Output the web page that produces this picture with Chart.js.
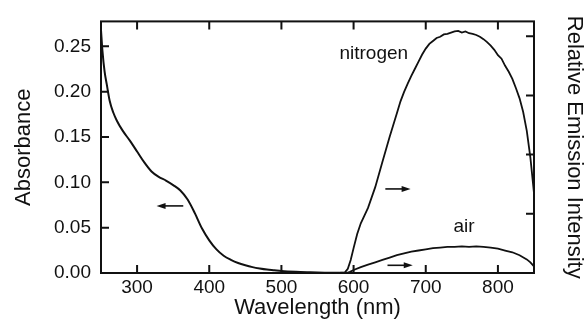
<!DOCTYPE html>
<html>
<head>
<meta charset="utf-8">
<script src="https://cdn.jsdelivr.net/npm/chart.js@4.4.1/dist/chart.umd.min.js"></script>
<style>
  html, body { margin: 0; padding: 0; background: #fff; }
  #wrap { width: 584px; height: 326px; }
</style>
</head>
<body>
<div id="wrap"><canvas id="chart"></canvas></div>
<script>
// --- Data ---
// absorbance (left axis)
const absNm  = [250, 252, 255, 258, 262, 267, 272, 280, 290, 300, 310, 320, 330, 340, 350,
                360, 370, 380, 390, 400, 410, 420, 430, 440, 450, 460, 470, 480, 490, 500,
                520, 540, 560, 580, 600];
const absVal = [0.268, 0.245, 0.222, 0.208, 0.190, 0.177, 0.168, 0.157, 0.146, 0.134, 0.122, 0.112, 0.106, 0.102, 0.097,
                0.091, 0.081, 0.066, 0.049, 0.036, 0.026, 0.019, 0.0145, 0.011, 0.0085, 0.0065, 0.005, 0.0038, 0.003, 0.0022,
                0.0013, 0.0008, 0.0004, 0.0002, 0];

// emission under nitrogen (right axis, relative units)
const nitroNm  = [580, 588, 592, 596, 600, 605, 610, 615, 620, 630, 640, 650, 660, 665, 670, 675, 680, 685, 690, 695,
                  700, 705, 710, 715, 720, 725, 730, 735, 740, 745, 750, 755, 760, 765, 770, 775, 780, 785, 790, 795,
                  800, 805, 810, 815, 820, 825, 830, 835, 840, 845, 850];
const nitroInt = [0, 0.01, 0.07, 0.22, 0.42, 0.66, 0.84, 0.97, 1.10, 1.45, 1.88, 2.30, 2.70, 2.90, 3.06, 3.20, 3.33, 3.45, 3.57, 3.69,
                  3.79, 3.87, 3.92, 3.97, 3.99, 4.03, 4.04, 4.06, 4.08, 4.09, 4.06, 4.08, 4.05, 4.04, 4.02, 3.99, 3.95, 3.90, 3.84, 3.77,
                  3.68, 3.62, 3.50, 3.40, 3.28, 3.12, 2.95, 2.72, 2.40, 1.95, 1.35];

// emission under air (right axis)
const airNm  = [590, 595, 600, 610, 620, 630, 640, 650, 660, 670, 680, 690, 700, 710, 720, 730, 740, 750, 760, 770,
                780, 790, 800, 810, 820, 830, 840, 845, 850];
const airInt = [0, 0.02, 0.05, 0.10, 0.14, 0.18, 0.22, 0.26, 0.30, 0.33, 0.36, 0.38, 0.40, 0.42, 0.43, 0.44, 0.44, 0.45, 0.44, 0.45,
                0.44, 0.43, 0.41, 0.38, 0.35, 0.30, 0.23, 0.18, 0.11];

// axes
const xTicks  = [300, 400, 500, 600, 700, 800];
const yTicks  = [0, 0.05, 0.10, 0.15, 0.20, 0.25];
const y2Ticks = [1, 2, 3, 4];

// annotations (data coordinates)
const arrows = [
    { axis: 'y',  from: 364, to: 327, v: 0.074 },
    { axis: 'y2', from: 644, to: 679, v: 1.42 },
    { axis: 'y2', from: 647, to: 682, v: 0.13 },
];
const notes = [
    { text: 'nitrogen', nm: 628, v: 3.62 },
    { text: 'air',      nm: 753, v: 0.70 },
];

const INK = '#111';
const FONT = "'Liberation Sans', Arial, sans-serif";
const TICK = 8;

const toXY = (xs, ys) => xs.map((x, i) => ({ x, y: ys[i] }));

// frame, inward ticks, arrows and labels
const frameAndNotes = {
    id: 'frameAndNotes',
    afterDraw(chart) {
        const { ctx, chartArea: a, scales } = chart;
        const { x, y, y2 } = scales;
        ctx.save();
        ctx.strokeStyle = INK;
        ctx.fillStyle = INK;
        ctx.lineWidth = 2;
        ctx.strokeRect(a.left, a.top, a.right - a.left, a.bottom - a.top);

        ctx.beginPath();
        xTicks.forEach(v => {
            const px = x.getPixelForValue(v);
            ctx.moveTo(px, a.bottom); ctx.lineTo(px, a.bottom - TICK);
            ctx.moveTo(px, a.top);    ctx.lineTo(px, a.top + TICK);
        });
        yTicks.forEach(v => {
            const py = y.getPixelForValue(v);
            ctx.moveTo(a.left, py); ctx.lineTo(a.left + TICK, py);
        });
        y2Ticks.forEach(v => {
            const py = y2.getPixelForValue(v);
            ctx.moveTo(a.right, py); ctx.lineTo(a.right - TICK, py);
        });
        ctx.stroke();

        // arrows
        ctx.lineWidth = 1.6;
        arrows.forEach(ar => {
            const py = scales[ar.axis].getPixelForValue(ar.v);
            const x0 = x.getPixelForValue(ar.from);
            const x1 = x.getPixelForValue(ar.to);
            const dir = Math.sign(x1 - x0);
            ctx.beginPath();
            ctx.moveTo(x0, py); ctx.lineTo(x1 - dir * 6, py);
            ctx.stroke();
            ctx.beginPath();
            ctx.moveTo(x1, py);
            ctx.lineTo(x1 - dir * 9, py - 3);
            ctx.lineTo(x1 - dir * 9, py + 3);
            ctx.closePath();
            ctx.fill();
        });

        // curve labels
        ctx.font = `19px ${FONT}`;
        ctx.textAlign = 'center';
        ctx.textBaseline = 'alphabetic';
        notes.forEach(n => {
            ctx.fillText(n.text, x.getPixelForValue(n.nm), y2.getPixelForValue(n.v));
        });
        ctx.restore();
    }
};

const line = (data, axis, extra) => Object.assign({
    data, yAxisID: axis,
    borderColor: INK, borderWidth: 2, pointRadius: 0, fill: false,
}, extra);

new Chart(document.getElementById('chart'), {
    type: 'line',
    data: {
        datasets: [
            line(toXY(absNm, absVal), 'y', { cubicInterpolationMode: 'monotone' }),
            line(toXY(nitroNm, nitroInt), 'y2', { tension: 0, borderWidth: 1.8 }),
            line(toXY(airNm, airInt), 'y2', { tension: 0, borderWidth: 1.8 }),
        ]
    },
    options: {
        responsive: true,
        maintainAspectRatio: false,
        animation: false,
        layout: { padding: { top: 15, left: 0, right: 0, bottom: 0 } },
        plugins: { legend: { display: false }, tooltip: { enabled: false } },
        scales: {
            x: {
                type: 'linear', min: 250, max: 850,
                afterBuildTicks: s => { s.ticks = xTicks.map(v => ({ value: v })); },
                afterFit: s => { s.height = 53; },
                grid: { display: false, drawTicks: false },
                border: { display: false },
                ticks: { color: INK, font: { family: FONT, size: 19 }, padding: 3, maxRotation: 0, autoSkip: false },
                title: { display: true, text: 'Wavelength (nm)', color: INK,
                         font: { family: FONT, size: 22, lineHeight: 1 }, padding: { top: 0, bottom: 7 } }
            },
            y: {
                position: 'left', min: 0, max: 0.2775,
                afterBuildTicks: s => { s.ticks = yTicks.map(v => ({ value: v })); },
                afterFit: s => { s.width = 101; },
                grid: { display: false, drawTicks: false },
                border: { display: false },
                ticks: { color: INK, font: { family: FONT, size: 19 }, padding: 10, callback: v => v.toFixed(2) },
                title: { display: true, text: 'Absorbance', color: INK,
                         font: { family: FONT, size: 22, lineHeight: 1 }, padding: { top: 13, bottom: 0 } }
            },
            y2: {
                position: 'right', min: 0, max: 4.25,
                afterBuildTicks: s => { s.ticks = y2Ticks.map(v => ({ value: v })); },
                afterFit: s => { s.width = 50; },
                grid: { display: false, drawTicks: false },
                border: { display: false },
                ticks: { display: false },
                title: { display: true, text: 'Relative Emission Intensity', color: INK,
                         font: { family: FONT, size: 22, lineHeight: 1 }, padding: { top: -1, bottom: 0 } }
            }
        }
    },
    plugins: [frameAndNotes]
});
</script>
</body>
</html>
